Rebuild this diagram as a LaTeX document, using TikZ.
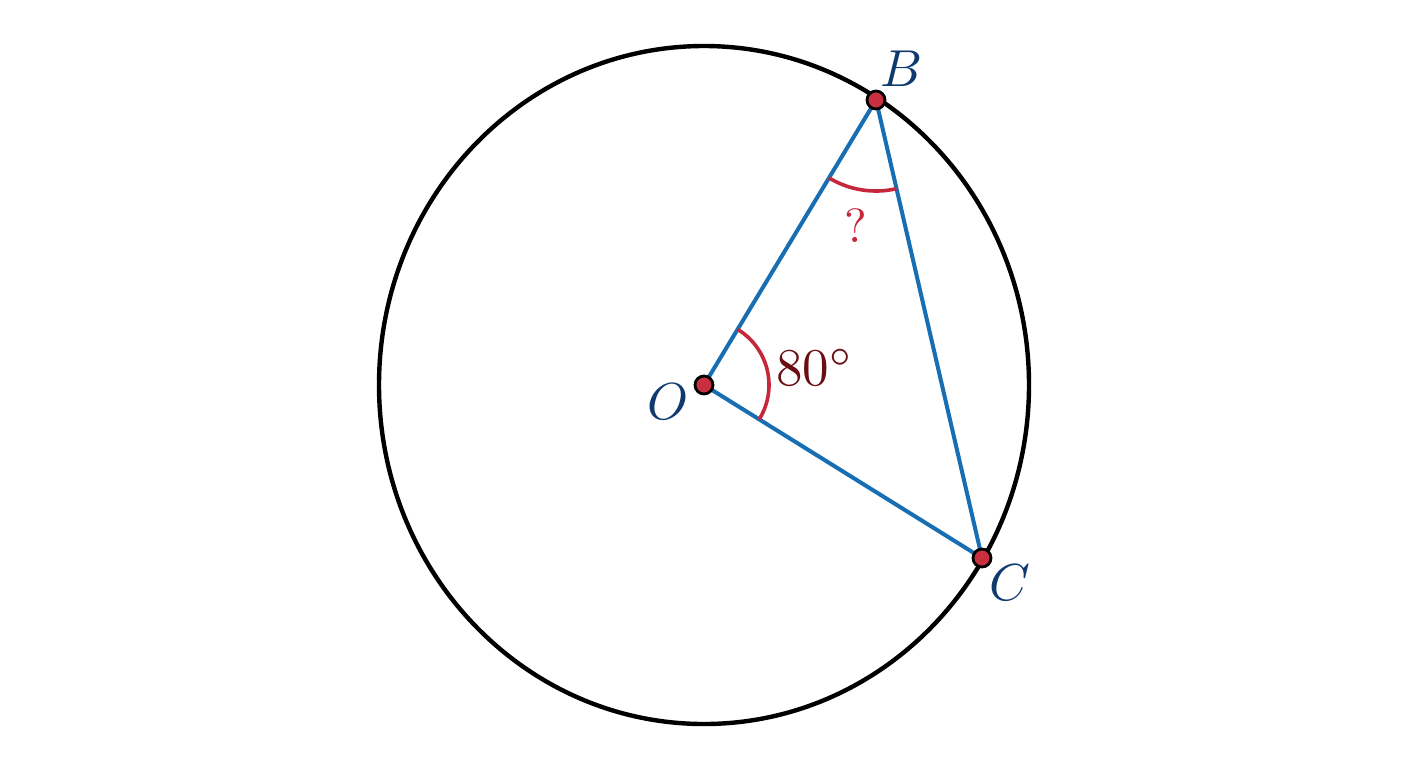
\documentclass[tikz,border=0pt]{standalone}
\begin{document}
\begin{tikzpicture}[x=0.5pt,y=-0.5pt]
\definecolor{segblue}{RGB}{24,110,178}
\definecolor{labblue}{RGB}{14,58,110}
\definecolor{arcred}{RGB}{196,40,58}
\definecolor{dotred}{RGB}{200,48,64}
\definecolor{darkred}{RGB}{105,14,18}
\tikzset{
  seg/.style={draw=segblue,line width=2pt},
  anglearc/.style={draw=arcred,line width=1.8pt},
  ptdot/.style={circle,fill=dotred,draw=black,line width=1.4pt,minimum size=9pt,inner sep=0pt},
  ptlabel/.style={text=labblue,font=\normalsize},
}
\useasboundingbox[fill=white] (0,0) rectangle (1408,768);
\coordinate (O) at (704,385);
\coordinate (B) at (876,100);
\coordinate (C) at (982,558);
\draw[line width=2.2pt] (O) ellipse [x radius=162.5pt, y radius=169.5pt];
\draw[seg] (O) -- (B);
\draw[seg] (O) -- (C);
\draw[seg] (B) -- (C);
\draw[anglearc] ([shift={(-31.9:32.5pt)}]O) arc[start angle=-31.9, end angle=58.9, radius=32.5pt];
\draw[anglearc] ([shift={(238.9:45.5pt)}]B) arc[start angle=238.9, end angle=283, radius=45.5pt];
\node[ptdot] (dO) at (O) {};
\node[ptdot] (dB) at (B) {};
\node[ptdot] (dC) at (C) {};
\node[ptlabel] (lB) at (902,69) {\scalebox{2.6}{$B$}};
\node[ptlabel] (lO) at (668,402) {\scalebox{2.6}{$O$}};
\node[ptlabel] (lC) at (1010,583) {\scalebox{2.6}{$C$}};
\node[text=darkred] (a80) at (815,367) {\scalebox{2.65}{$80^\circ$}};
\node[text=arcred] (q) at (856,226) {\scalebox{2.4}{?}};
\end{tikzpicture}
\end{document}
